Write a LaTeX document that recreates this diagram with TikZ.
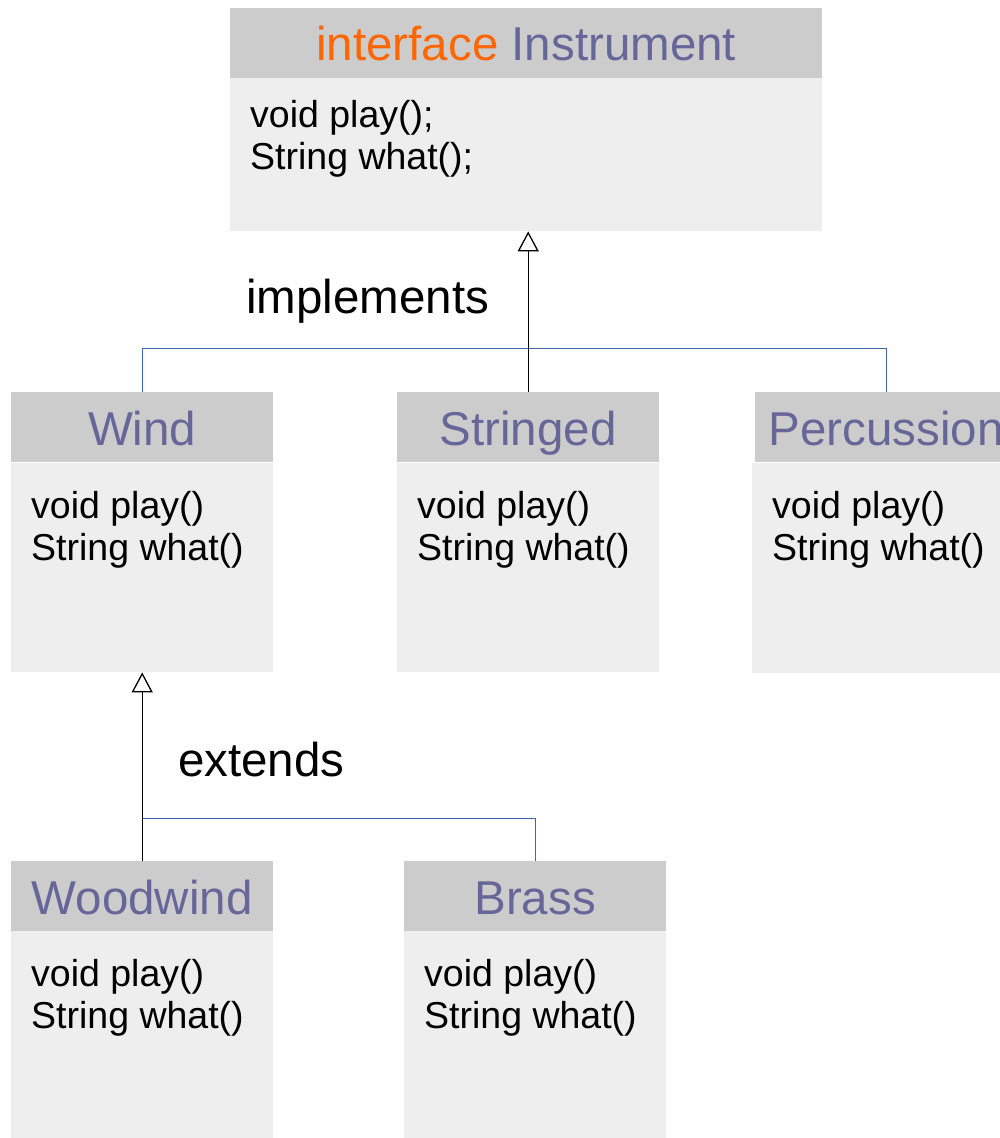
\documentclass[tikz,border=0pt]{standalone}
\usepackage{fontspec}
\setmainfont{Liberation Sans}
\usetikzlibrary{arrows.meta}
\definecolor{hdrgray}{HTML}{CCCCCC}
\definecolor{bodygray}{HTML}{EEEEEE}
\definecolor{kwor}{HTML}{FF6600}
\definecolor{clspurple}{HTML}{666699}
\definecolor{linkblue}{HTML}{3C68A8}
\begin{document}
\begin{tikzpicture}[x=1pt,y=-1pt,
  hdr/.style={fill=hdrgray, draw=none, inner sep=0pt, minimum height=70pt, minimum width=262pt, anchor=north west},
  bodybox/.style={fill=bodygray, draw=none, inner sep=0pt, minimum width=262pt, anchor=north west},
  title/.style={anchor=base, inner sep=0pt, text=clspurple, font=\fontsize{47.5}{50}\selectfont},
  mline/.style={anchor=base west, inner sep=0pt, font=\fontsize{37.5}{42}\selectfont},
  label/.style={anchor=base west, inner sep=0pt, font=\fontsize{47.5}{50}\selectfont},
  blueline/.style={draw=linkblue, line width=0.9pt},
  genline/.style={draw=black, line width=1pt, -{Triangle[open, length=20pt, width=21pt, line width=1.3pt]}}
]
\useasboundingbox (0,0) rectangle (999,1138);
\fill[white] (0,0) rectangle (999,1138);

% Instrument
\node[hdr, minimum width=592pt] (ih) at (230,8) {};
\node[bodybox, minimum width=592pt, minimum height=153pt] (ib) at (230,78) {};
\node[title] (it) at ([yshift=-52pt]ih.north) {\textcolor{kwor}{interface} Instrument};
\node[mline] (i1) at ([xshift=20pt,yshift=-49pt]ib.north west) {void play();};
\node[mline] (i2) at ([xshift=20pt,yshift=-91pt]ib.north west) {String what();};

% Wind
\node[hdr] (wh) at (11,392) {};
\node[bodybox, minimum height=209pt] (wb) at (11,463) {};
\node[title] (wt) at ([yshift=-53pt]wh.north) {Wind};
\node[mline] (w1) at ([xshift=20pt,yshift=-55pt]wb.north west) {void play()};
\node[mline] (w2) at ([xshift=20pt,yshift=-97pt]wb.north west) {String what()};

% Stringed
\node[hdr] (sh) at (397,392) {};
\node[bodybox, minimum height=209pt] (sb) at (397,463) {};
\node[title] (st) at ([yshift=-53pt]sh.north) {Stringed};
\node[mline] (s1) at ([xshift=20pt,yshift=-55pt]sb.north west) {void play()};
\node[mline] (s2) at ([xshift=20pt,yshift=-97pt]sb.north west) {String what()};

% Percussion
\node[hdr] (ph) at (755,392) {};
\node[bodybox, minimum height=210pt] (pb) at (752,463) {};
\node[title] (pt) at ([yshift=-53pt]ph.north) {Percussion};
\node[mline] (p1) at ([xshift=20pt,yshift=-55pt]pb.north west) {void play()};
\node[mline] (p2) at ([xshift=20pt,yshift=-97pt]pb.north west) {String what()};

% Woodwind
\node[hdr] (oh) at (11,861) {};
\node[bodybox, minimum height=207pt] (ob) at (11,931) {};
\node[title] (ot) at ([yshift=-53pt]oh.north) {Woodwind};
\node[mline] (o1) at ([xshift=20pt,yshift=-55pt]ob.north west) {void play()};
\node[mline] (o2) at ([xshift=20pt,yshift=-97pt]ob.north west) {String what()};

% Brass
\node[hdr] (bh) at (404,861) {};
\node[bodybox, minimum height=207pt] (bb) at (404,931) {};
\node[title] (bt) at ([yshift=-53pt]bh.north) {Brass};
\node[mline] (b1) at ([xshift=20pt,yshift=-55pt]bb.north west) {void play()};
\node[mline] (b2) at ([xshift=20pt,yshift=-97pt]bb.north west) {String what()};

% labels
\node[label] (impl) at (246,313) {implements};
\node[label] (ext) at (178,776) {extends};

% connectors
\draw[blueline] (wh.north) -- ++(0,-44) -| (ph.north);
\draw[genline] (sh.north) -- (sh.north |- ib.south);
\draw[blueline] (oh.north) ++(0,-43) -| (bh.north);
\draw[genline] (oh.north) -- (wb.south);
\end{tikzpicture}
\end{document}
